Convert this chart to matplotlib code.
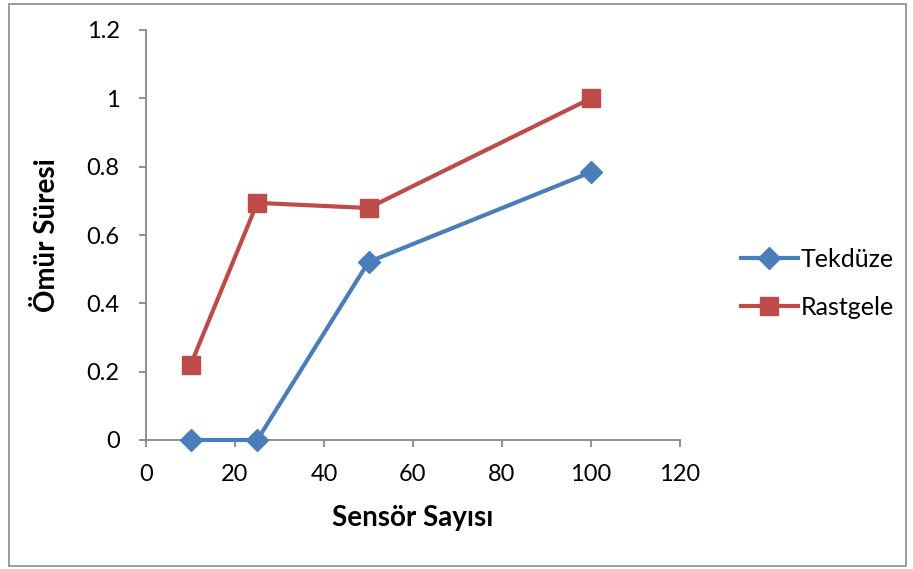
import matplotlib
matplotlib.use("Agg")
import matplotlib.pyplot as plt
from matplotlib.patches import Rectangle

sensor_counts = [10, 25, 50, 100]
tekduze = [0.0, 0.0, 0.521, 0.784]
rastgele = [0.219, 0.694, 0.679, 1.0]
x_ticks = [0, 20, 40, 60, 80, 100, 120]
y_ticks = [0, 0.2, 0.4, 0.6, 0.8, 1.0, 1.2]
y_tick_labels = ["0", "0.2", "0.4", "0.6", "0.8", "1", "1.2"]

plt.rcParams['font.family'] = ['Lato', 'DejaVu Sans']

fig = plt.figure(figsize=(9.13, 5.69), dpi=100)
ax = fig.add_axes([146/913, 1-440/569, (680-146)/913, (440-30)/569])

blue = '#4a7ebb'
red = '#be4b48'
ax.plot(sensor_counts, tekduze, color=blue, lw=3, marker='D', ms=11,
        label='Tekdüze', clip_on=False, zorder=3)
ax.plot(sensor_counts, rastgele, color=red, lw=3, marker='s', ms=13,
        label='Rastgele', clip_on=False, zorder=3)

ax.set_xlim(0, 120)
ax.set_ylim(0, 1.2)
ax.set_xticks(x_ticks)
ax.set_yticks(y_ticks)
ax.set_yticklabels(y_tick_labels)
for s in ['top', 'right']:
    ax.spines[s].set_visible(False)
for s in ['left', 'bottom']:
    ax.spines[s].set_color('#878787')
    ax.spines[s].set_linewidth(1.3)
ax.tick_params(axis='both', colors='#878787', labelcolor='black',
               labelsize=17, length=5, width=1.3, direction='out')
ax.tick_params(axis='y', pad=14)
ax.tick_params(axis='x', pad=12)

ax.set_xlabel('Sensör Sayısı', fontsize=20, fontweight='bold', labelpad=15)
ax.set_ylabel('Ömür Süresi', fontsize=20, fontweight='bold', labelpad=19)

leg = fig.legend(loc='center left', bbox_to_anchor=(728/913, 1-283/569),
                 frameon=False, fontsize=18, handlelength=2.3,
                 handletextpad=0.1, labelspacing=1.0, borderpad=0)

fig.patches.append(Rectangle((9/913, 3/569), (906-9)/913, (565-3)/569,
                             transform=fig.transFigure, fill=False,
                             edgecolor='#8c8c8c', lw=1.2))

fig.savefig('out.png', dpi=100)
